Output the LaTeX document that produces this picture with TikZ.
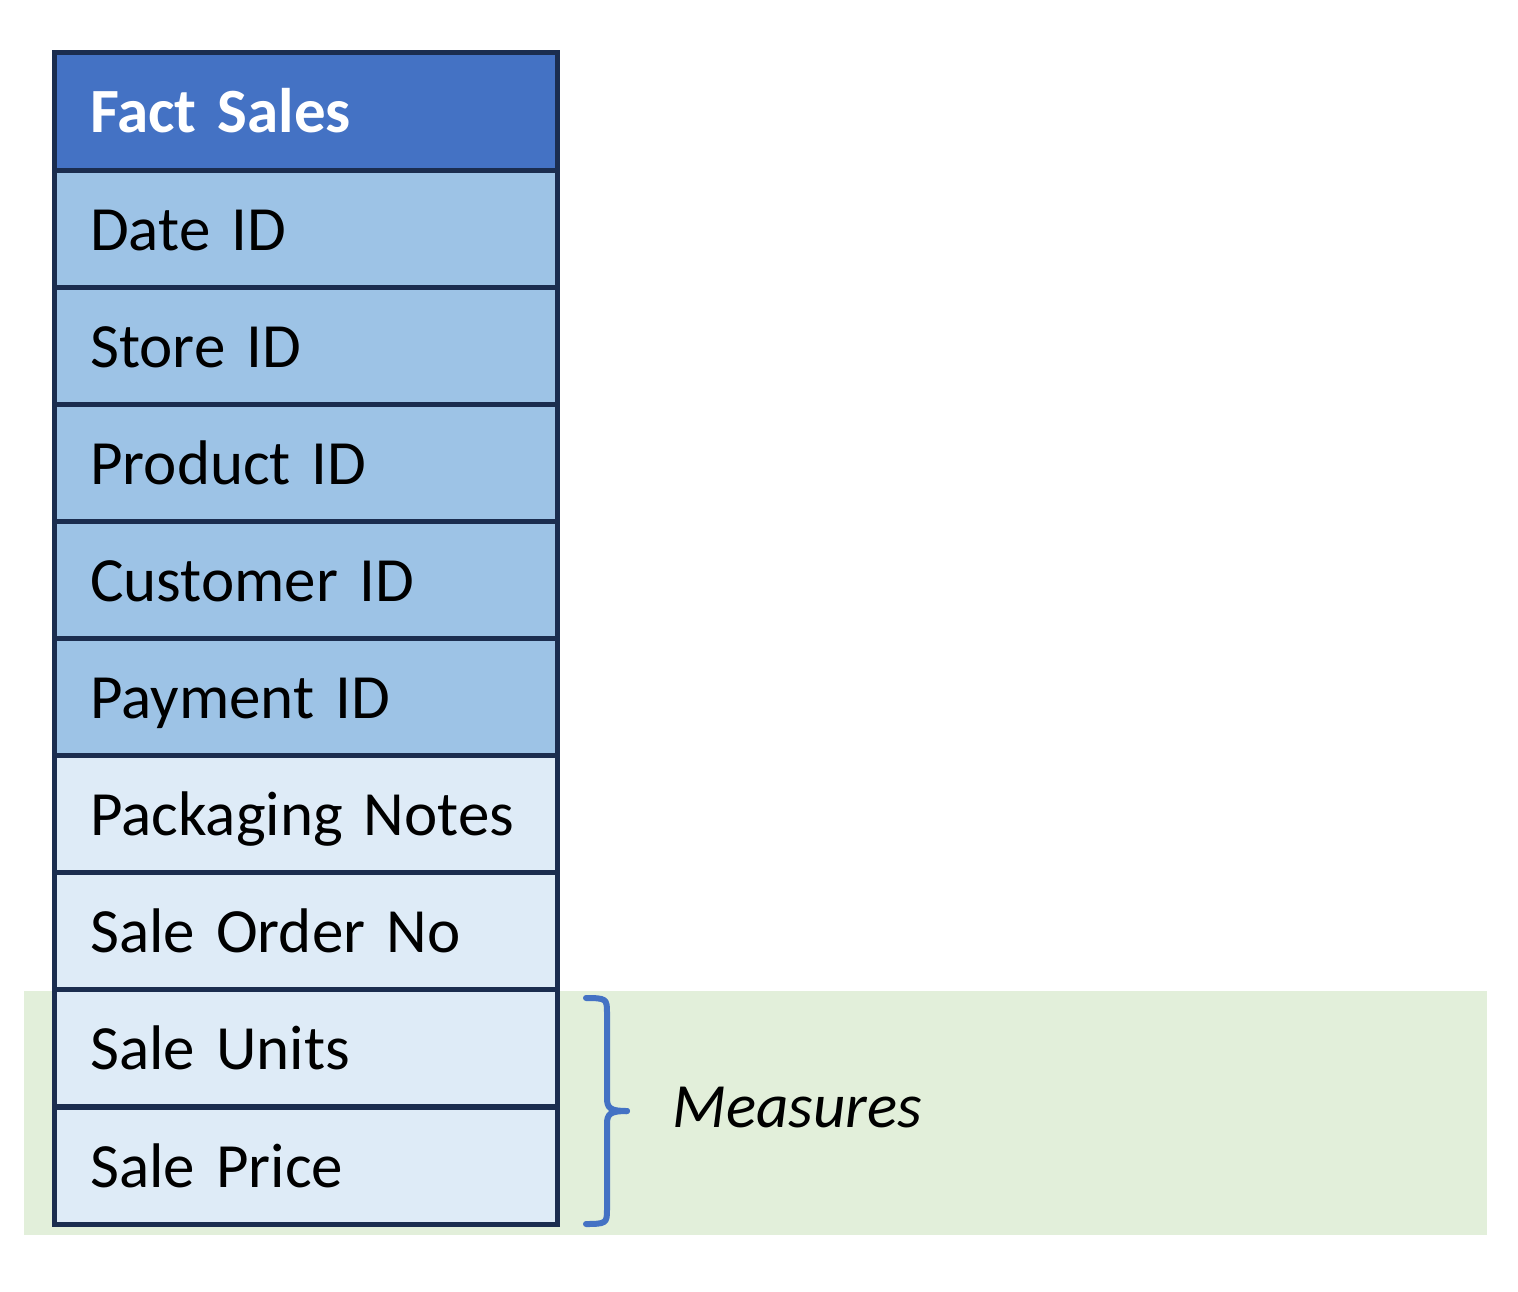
\documentclass[tikz,border=0pt]{standalone}
\usepackage{fontspec}
\setmainfont{Carlito}[WordSpace={0.6,0,0}]
\definecolor{borderc}{HTML}{1B2D4F}
\definecolor{headc}{HTML}{4472C4}
\definecolor{keyc}{HTML}{9DC3E6}
\definecolor{attc}{HTML}{DEEBF7}
\definecolor{bandc}{HTML}{E2EFDA}
\begin{document}
\begin{tikzpicture}[x=1pt,y=-1pt,
  cell/.style={draw=borderc, line width=4.5pt, rectangle, anchor=north west,
    minimum width=503pt, minimum height=117pt, text width=431pt, align=left,
    inner xsep=36pt, text height=43pt, text depth=0pt,
    font=\fontsize{63}{70}\selectfont},
  headcell/.style={cell, fill=headc, text=white, font=\fontsize{63}{70}\selectfont\bfseries, minimum height=118pt},
  keycell/.style={cell, fill=keyc},
  attcell/.style={cell, fill=attc},
  bracec/.style={draw=headc, line width=6pt, line cap=round}]
\useasboundingbox (0,0) rectangle (1518,1291);
\fill[bandc] (24,991) rectangle (1487,1235);
\node[headcell] (head) at (52,50) {\mbox{Fact Sales}};
\node[keycell] (date) at (52,168) {\mbox{Date ID}};
\node[keycell] (store) at (52,285) {\mbox{Store ID}};
\node[keycell] (product) at (52,402) {\mbox{Product ID}};
\node[keycell] (customer) at (52,519) {\mbox{Customer ID}};
\node[keycell] (payment) at (52,636) {\mbox{Payment ID}};
\node[attcell] (pack) at (52,753) {\mbox{Packaging Notes}};
\node[attcell] (order) at (52,870) {\mbox{Sale Order No}};
\node[attcell] (units) at (52,987) {\mbox{Sale Units}};
\node[attcell] (price) at (52,1105) {\mbox{Sale Price}};
\draw[bracec] (586,998) .. controls (606,998) and (607,999) .. (607,1012) -- (607,1098)
  .. controls (607,1108) and (610,1111) .. (627,1111);
\draw[bracec] (627,1111) .. controls (610,1111) and (607,1114) .. (607,1124) -- (607,1210)
  .. controls (607,1223) and (606,1224) .. (586,1224);
\node[anchor=west, inner sep=0pt, font=\fontsize{63}{70}\selectfont\itshape] (meas) at (672,1108) {Measures};
\end{tikzpicture}
\end{document}
